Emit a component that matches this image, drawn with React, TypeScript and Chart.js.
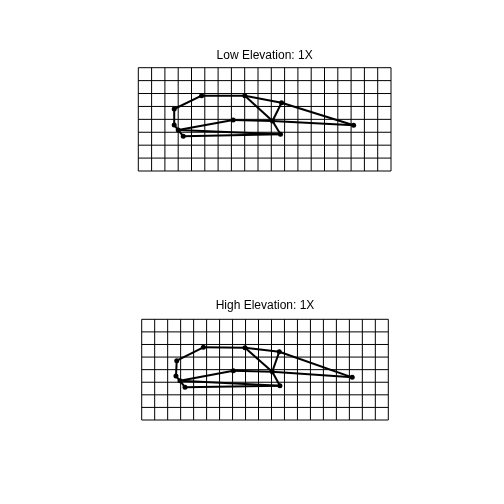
import React, { useEffect, useRef } from "react";
import { Chart, registerables } from "chart.js";

Chart.register(...registerables);

// Grid line positions (grid-cell units)
const gridXs = [0, 1, 2, 3, 4, 5, 6, 7, 8, 9, 10, 11, 12, 13, 14, 15, 16, 17, 18, 19];
const gridYs = [0, 1, 2, 3, 4, 5, 6, 7, 8];

// Landmarks A..K for each panel (grid-cell units)
const lowX = [2.70, 4.76, 8.01, 10.77, 16.19, 10.09, 7.13, 2.70, 3.00, 3.38, 10.69];
const lowY = [4.80, 5.83, 5.83, 5.29, 3.54, 3.87, 3.95, 3.56, 3.18, 2.69, 2.84];
const highX = [2.70, 4.75, 7.96, 10.60, 16.22, 10.06, 7.06, 2.64, 2.95, 3.34, 10.65];
const highY = [4.71, 5.77, 5.74, 5.42, 3.39, 3.84, 3.92, 3.49, 3.12, 2.60, 2.72];

// Links between landmarks (indices)
const linkFrom = [0, 1, 2, 3, 2, 3, 5, 0, 7, 8, 8, 6, 5, 8, 9];
const linkTo = [1, 2, 3, 4, 5, 5, 10, 7, 8, 9, 6, 5, 4, 10, 10];

const titles = ["Low Elevation: 1X", "High Elevation: 1X"];

type PanelCfg = {
  title: string;
  xs: number[];
  ys: number[];
  pad: { left: number; right: number; bottom: number };
  titleTop: number;
  titleBottom: number;
};

function Panel({ cfg }: { cfg: PanelCfg }) {
  const ref = useRef<HTMLCanvasElement | null>(null);
  useEffect(() => {
    if (!ref.current) return;
    const datasets: any[] = [];
    const gxMax = gridXs[gridXs.length - 1];
    const gyMax = gridYs[gridYs.length - 1];
    gridXs.forEach((gx) => {
      datasets.push({
        type: "line",
        data: [
          { x: gx, y: 0 },
          { x: gx, y: gyMax },
        ],
        borderColor: "#000",
        borderWidth: 1,
        pointRadius: 0,
        clip: false,
      });
    });
    gridYs.forEach((gy) => {
      datasets.push({
        type: "line",
        data: [
          { x: 0, y: gy },
          { x: gxMax, y: gy },
        ],
        borderColor: "#000",
        borderWidth: 1,
        pointRadius: 0,
        clip: false,
      });
    });
    linkFrom.forEach((a, i) => {
      const b = linkTo[i];
      datasets.push({
        type: "line",
        data: [
          { x: cfg.xs[a], y: cfg.ys[a] },
          { x: cfg.xs[b], y: cfg.ys[b] },
        ],
        borderColor: "#000",
        borderWidth: 2,
        pointRadius: 0,
        clip: false,
      });
    });
    datasets.push({
      type: "scatter",
      data: cfg.xs.map((x, i) => ({ x, y: cfg.ys[i] })),
      backgroundColor: "#000",
      borderColor: "#000",
      pointRadius: 2.5,
      borderWidth: 0,
      clip: false,
    });
    const chart = new Chart(ref.current, {
      type: "scatter",
      data: { datasets },
      options: {
        animation: false,
        responsive: false,
        devicePixelRatio: 1,
        layout: {
          padding: { top: 0, left: cfg.pad.left, right: cfg.pad.right, bottom: cfg.pad.bottom },
        },
        scales: {
          x: { type: "linear", min: 0, max: gxMax, display: false },
          y: { type: "linear", min: 0, max: gyMax, display: false },
        },
        plugins: {
          legend: { display: false },
          tooltip: { enabled: false },
          title: {
            display: true,
            text: cfg.title,
            color: "#000",
            font: { family: "'Liberation Sans', Arial, sans-serif", size: 12, weight: "normal", lineHeight: 1.2 },
            padding: { top: cfg.titleTop, bottom: cfg.titleBottom },
          },
        },
      },
    });
    return () => chart.destroy();
  }, [cfg]);
  return <canvas ref={ref} width={504} height={252} style={{ display: "block" }} />;
}

const panels: PanelCfg[] = [
  {
    title: titles[0],
    xs: lowX,
    ys: lowY,
    pad: { left: 138.3, right: 113, bottom: 81 },
    titleTop: 48.3,
    titleBottom: 5.0,
  },
  {
    title: titles[1],
    xs: highX,
    ys: highY,
    pad: { left: 141.7, right: 115.7, bottom: 84 },
    titleTop: 46.8,
    titleBottom: 6.1,
  },
];

export default function App() {
  return (
    <div style={{ position: "absolute", left: 0, top: 0, width: 504, height: 504, background: "#fff" }}>
      <Panel cfg={panels[0]} />
      <Panel cfg={panels[1]} />
    </div>
  );
}
